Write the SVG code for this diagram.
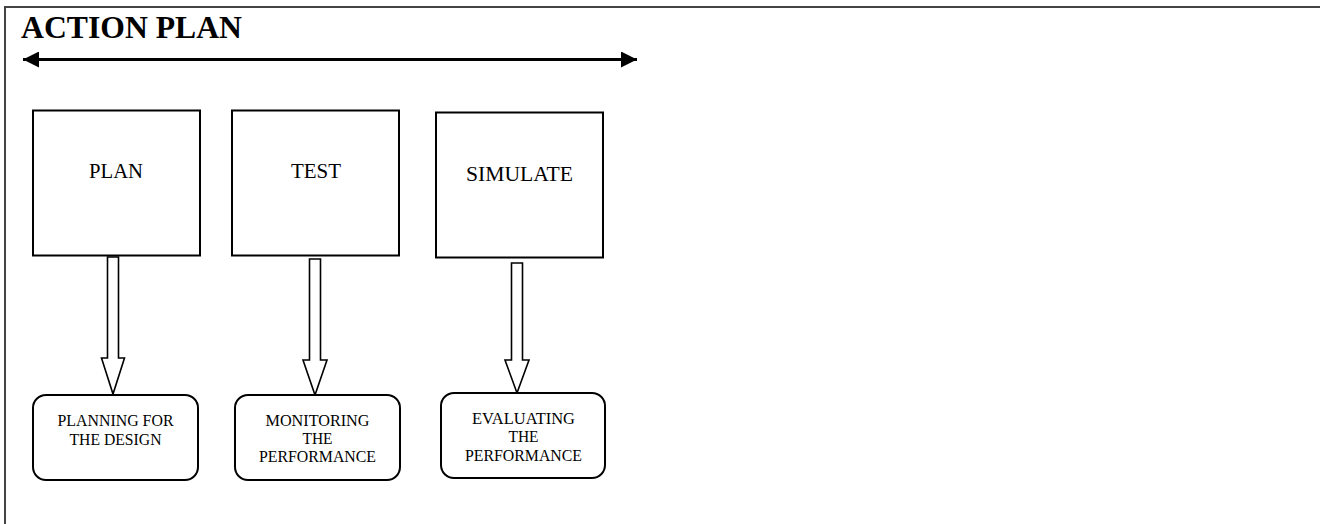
<svg xmlns="http://www.w3.org/2000/svg" width="1320" height="524" viewBox="0 0 1320 524">
<style>
text{font-family:"Liberation Serif","Times New Roman",serif;fill:#000}
.title{font-size:32px;font-weight:bold}
.box{fill:#fff;stroke:#000;stroke-width:2}
.lbl{font-size:20px;text-anchor:middle}
.small{font-size:17px;text-anchor:middle}
.hollow{fill:#fff;stroke:#000;stroke-width:1.6;stroke-linejoin:miter}
</style>
<defs>
<marker id="ah" viewBox="0 0 16 16" refX="16" refY="8" markerWidth="16" markerHeight="16" markerUnits="userSpaceOnUse" orient="auto-start-reverse">
<path d="M0,0 L16,8 L0,16 Z" fill="#000"/>
</marker>
</defs>
<rect width="1320" height="524" fill="#fff"/>
<g id="frame">
<path d="M5,524 V7 H1320" fill="none" stroke="#444" stroke-width="2"/>
</g>
<g id="title">
<text class="title" x="21" y="38" textLength="221" lengthAdjust="spacingAndGlyphs">ACTION PLAN</text>
</g>
<g id="connectors">
<line x1="23" y1="59.5" x2="637" y2="59.5" stroke="#000" stroke-width="3" marker-start="url(#ah)" marker-end="url(#ah)"/>
<path class="hollow" d="M107.5,257 H118.5 V358 H124.5 L113,394 L101.5,358 H107.5 Z"/>
<path class="hollow" d="M309.5,259 H320.5 V360 H327 L315,395 L303,360 H309.5 Z"/>
<path class="hollow" d="M511.5,263 H522.5 V360 H529 L517,393 L505,360 H511.5 Z"/>
</g>
<g id="plan">
<rect class="box" x="33" y="110.5" width="167" height="145"/>
<text class="lbl" x="116" y="178" textLength="54" lengthAdjust="spacingAndGlyphs">PLAN</text>
</g>
<g id="test">
<rect class="box" x="232" y="110.5" width="167" height="145"/>
<text class="lbl" x="316" y="178" textLength="50" lengthAdjust="spacingAndGlyphs">TEST</text>
</g>
<g id="simulate">
<rect class="box" x="436" y="112.5" width="167" height="145"/>
<text class="lbl" x="519.5" y="181" textLength="107" lengthAdjust="spacingAndGlyphs">SIMULATE</text>
</g>
<g id="planning">
<rect class="box" x="33" y="395" width="165" height="85" rx="13"/>
<text class="small" x="115.5" y="426" textLength="116" lengthAdjust="spacingAndGlyphs">PLANNING FOR</text>
<text class="small" x="115.5" y="444.5" textLength="92" lengthAdjust="spacingAndGlyphs">THE DESIGN</text>
</g>
<g id="monitoring">
<rect class="box" x="235" y="395" width="165" height="85" rx="13"/>
<text class="small" x="317.5" y="426" textLength="104" lengthAdjust="spacingAndGlyphs">MONITORING</text>
<text class="small" x="317.5" y="444" textLength="30" lengthAdjust="spacingAndGlyphs">THE</text>
<text class="small" x="317.5" y="462" textLength="117" lengthAdjust="spacingAndGlyphs">PERFORMANCE</text>
</g>
<g id="evaluating">
<rect class="box" x="441" y="393" width="164" height="85" rx="13"/>
<text class="small" x="523.5" y="423.5" textLength="103" lengthAdjust="spacingAndGlyphs">EVALUATING</text>
<text class="small" x="523.5" y="442" textLength="30" lengthAdjust="spacingAndGlyphs">THE</text>
<text class="small" x="523.5" y="460.5" textLength="117" lengthAdjust="spacingAndGlyphs">PERFORMANCE</text>
</g>
</svg>
